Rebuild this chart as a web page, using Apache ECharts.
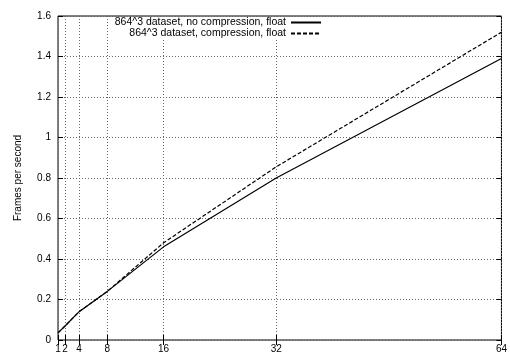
<!DOCTYPE html>
<html>
<head>
<meta charset="utf-8">
<script src="https://cdn.jsdelivr.net/npm/echarts@6/dist/echarts.min.js"></script>
<style>
  html, body { margin: 0; padding: 0; background: #fff; }
  #main { width: 510px; height: 354px; }
</style>
</head>
<body>
<div id="main"></div>
<script>
var xTicks = [1, 2, 4, 8, 16, 32, 64];
var nodes = [1, 2, 4, 8, 16, 32, 64];
var fpsNoComp = [0.035, 0.069, 0.14, 0.24, 0.46, 0.80, 1.39];
var fpsComp = [0.035, 0.069, 0.14, 0.24, 0.48, 0.855, 1.52];
var names = ['864^3 dataset, no compression, float', '864^3 dataset, compression, float'];

function pairs(xs, ys) {
  return xs.map(function (x, i) { return [x, ys[i]]; });
}

var font = 'Liberation Sans, Arial, sans-serif';
var gridLine = { show: true, lineStyle: { color: '#666', type: [1, 2], width: 1 } };

function legendFor(name, top) {
  return {
    data: [name], right: 188, top: top, align: 'right',
    itemWidth: 30, itemHeight: 8, backgroundColor: '#fff', padding: [0, 0, 0, 4],
    itemStyle: { opacity: 0 },
    textStyle: { fontSize: 10.5, color: '#000', fontFamily: font }
  };
}

var myChart = echarts.init(document.getElementById('main'));
myChart.setOption({
  animation: false,
  textStyle: { fontFamily: font },
  grid: { left: 58, right: 6, top: 16, bottom: 14, show: true, borderColor: '#000', borderWidth: 1 },
  legend: [legendFor(names[0], 17), legendFor(names[1], 28)],
  xAxis: [{
    type: 'value', min: 1, max: 64,
    axisLine: { show: false },
    axisTick: { inside: true, length: 5, customValues: xTicks, lineStyle: { color: '#000' } },
    axisLabel: { customValues: xTicks, fontSize: 10, color: '#000', margin: 4 },
    splitLine: Object.assign({ customValues: xTicks }, gridLine)
  }, {
    type: 'value', min: 1, max: 64, position: 'top',
    axisLine: { show: false },
    axisTick: { inside: true, length: 5, customValues: xTicks, lineStyle: { color: '#000' } },
    axisLabel: { show: false },
    splitLine: { show: false }
  }],
  yAxis: [{
    type: 'value', min: 0, max: 1.6, interval: 0.2,
    name: 'Frames per second', nameLocation: 'middle', nameGap: 35,
    nameTextStyle: { fontSize: 10, color: '#000' },
    axisLine: { show: false },
    axisTick: { inside: true, length: 5, lineStyle: { color: '#000' } },
    axisLabel: { fontSize: 10, color: '#000', margin: 7 },
    splitLine: gridLine
  }, {
    type: 'value', min: 0, max: 1.6, interval: 0.2, position: 'right',
    axisLine: { show: false },
    axisTick: { inside: true, length: 5, lineStyle: { color: '#000' } },
    axisLabel: { show: false },
    splitLine: { show: false }
  }],
  series: [{
    name: names[0], type: 'line', symbol: 'none',
    data: pairs(nodes, fpsNoComp),
    lineStyle: { color: '#000', width: 1.2, type: 'solid' },
    itemStyle: { color: '#000' }
  }, {
    name: names[1], type: 'line', symbol: 'none',
    data: pairs(nodes, fpsComp),
    lineStyle: { color: '#000', width: 1.2, type: [4, 2] },
    itemStyle: { color: '#000' }
  }]
});
</script>
</body>
</html>
